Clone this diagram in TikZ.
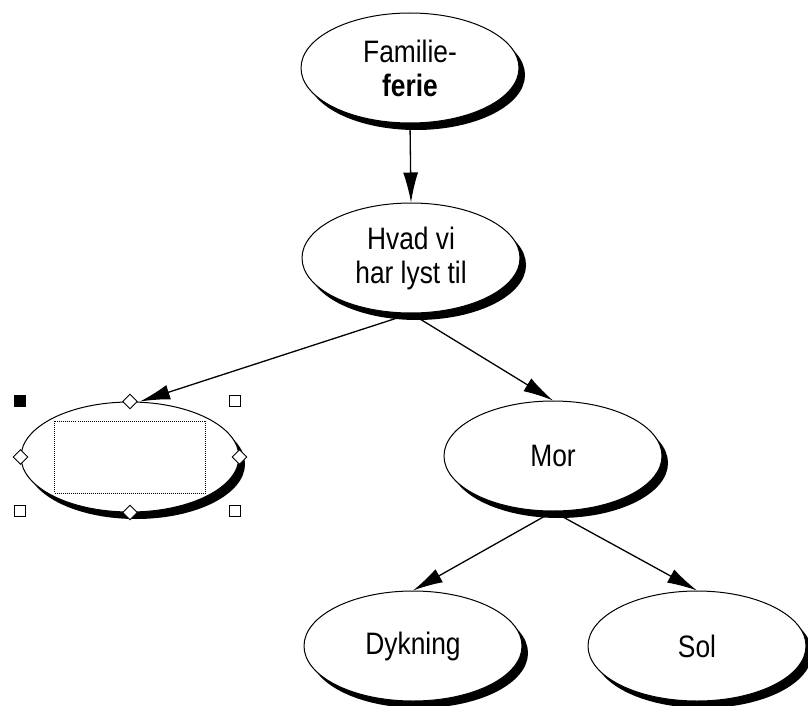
\documentclass[tikz,border=0pt]{standalone}
\usepackage{fontspec}
\newfontfamily\mapfont[FakeStretch=0.85]{Liberation Sans}
\usepackage{tikz}
\usetikzlibrary{shapes.geometric}
\usetikzlibrary{shadows}
\usetikzlibrary{arrows.meta}
\newcommand{\widthtopic}{218pt}
\newcommand{\heighttopic}{110pt}
\newcommand{\widthtextbox}{151pt}
\newcommand{\heighttextbox}{72pt}
\tikzset{
    topic/.style={ellipse, draw, fill=white, line width=1pt, inner sep=0pt,
        minimum width=\widthtopic, minimum height=\heighttopic, align=center,
        font=\mapfont\fontsize{31}{34}\selectfont,
        drop shadow={fill=black, opacity=1, shadow xshift=6pt, shadow yshift=-7pt}},
    link/.style={-{Latex[length=30pt, width=15pt]}, line width=1.3pt},
    handle/.style={diamond, draw, fill=white, inner sep=0pt, minimum size=15pt, line width=0.9pt},
    grip/.style={rectangle, draw, fill=white, inner sep=0pt, minimum size=11pt, line width=1.8pt},
    textbox/.style={draw, densely dotted, line width=1pt,
        minimum width=\widthtextbox, minimum height=\heighttextbox}
}

\begin{document}
\begin{tikzpicture}[x=1pt, y=-1pt]
        \useasboundingbox (0,0) rectangle (808,706);

        \node[topic] (ferie) at (410,68) {Familie-\\\textbf{ferie}};
        \node[topic] (hvad) at (411,258) {Hvad vi\\har lyst til};
        \node[topic] (ny) at (130,457) {};
        \node[topic] (mor) at (553,456) {Mor};
        \node[topic] (dykning) at (413,646) {Dykning};
        \node[topic] (sol) at (697,646) {Sol};

        % selection of the new topic
        \node[textbox] (ny-text) at (ny.center) {};
        \node[handle] (ny-n) at (ny.north) {};
        \node[handle] (ny-s) at (ny.south) {};
        \node[handle] (ny-w) at (ny.west) {};
        \node[handle] (ny-e) at (ny.east) {};
        \node[grip, fill=black] (ny-nw) at (20,401) {};
        \node[grip] (ny-ne) at (235,401) {};
        \node[grip] (ny-sw) at (20,511) {};
        \node[grip] (ny-se) at (235,511) {};

        \draw[link] (ferie.south) -- (hvad.north);
        \draw[link] (hvad.south) -- ([xshift=10pt]ny.north);
        \draw[link] (hvad.south) -- (mor.north);
        \draw[link] (mor.south) -- (dykning.north);
        \draw[link] (mor.south) -- (sol.north);

    \end{tikzpicture}
\end{document}
